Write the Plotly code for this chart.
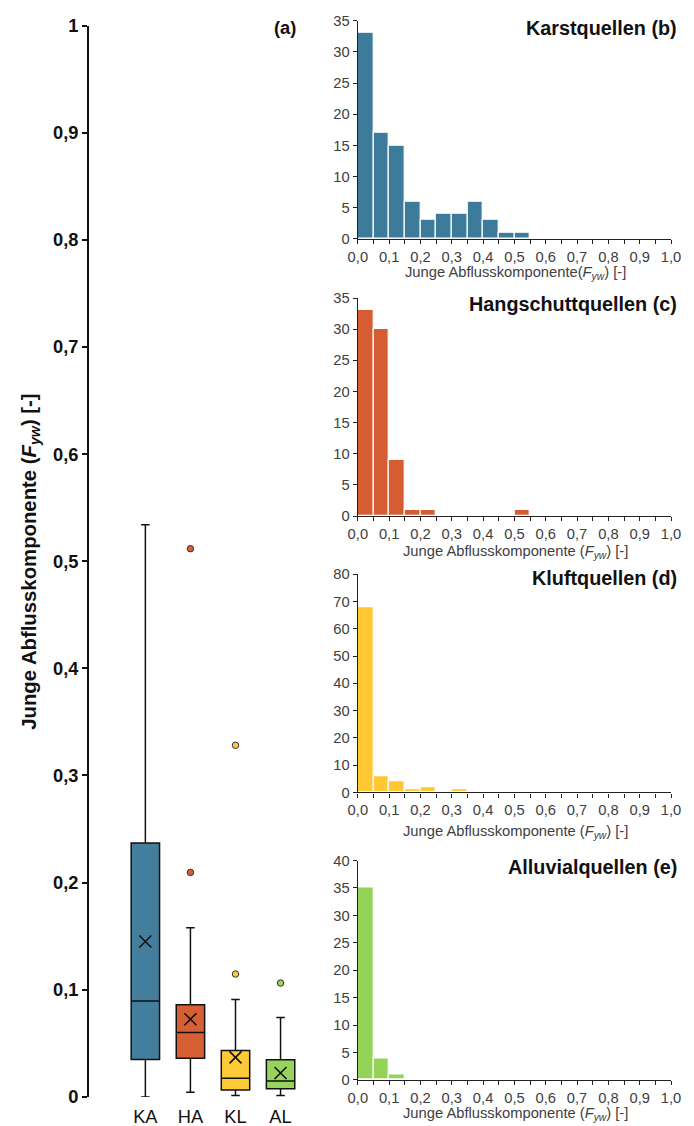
import plotly.graph_objects as go

# ---------- data ----------
groups = ["KA", "HA", "KL", "AL"]
box_q1 = [0.035, 0.036, 0.0065, 0.0077]
box_median = [0.0895, 0.060, 0.0174, 0.0149]
box_q3 = [0.237, 0.086, 0.0434, 0.0347]
box_lower = [0.0, 0.0044, 0.0012, 0.0012]
box_upper = [0.534, 0.158, 0.0908, 0.0741]
box_mean = [0.145, 0.0725, 0.0369, 0.0223]

outlier_group = ["HA", "HA", "KL", "KL", "AL"]
outlier_value = [0.2095, 0.5117, 0.1147, 0.3282, 0.1063]

bin_starts = [0.00, 0.05, 0.10, 0.15, 0.20, 0.25, 0.30, 0.35, 0.40, 0.45,
              0.50, 0.55, 0.60, 0.65, 0.70, 0.75, 0.80, 0.85, 0.90, 0.95]
counts_karst = [33, 17, 15, 6, 3, 4, 4, 6, 3, 1, 1, 0, 0, 0, 0, 0, 0, 0, 0, 0]
counts_hang = [33, 30, 9, 1, 1, 0, 0, 0, 0, 0, 1, 0, 0, 0, 0, 0, 0, 0, 0, 0]
counts_kluft = [68, 6, 4, 1, 2, 0, 1, 0, 0, 0, 0, 0, 0, 0, 0, 0, 0, 0, 0, 0]
counts_alluv = [35, 4, 1, 0, 0, 0, 0, 0, 0, 0, 0, 0, 0, 0, 0, 0, 0, 0, 0, 0]

hist_titles = ["Karstquellen (b)", "Hangschuttquellen (c)", "Kluftquellen (d)", "Alluvialquellen (e)"]
hist_ymax = [35, 35, 80, 40]
hist_dtick = [5, 5, 10, 5]

box_ticks = [0, 0.1, 0.2, 0.3, 0.4, 0.5, 0.6, 0.7, 0.8, 0.9, 1.0]
box_ticktext = ["0", "0,1", "0,2", "0,3", "0,4", "0,5", "0,6", "0,7", "0,8", "0,9", "1"]
hist_xticks = [0.0, 0.1, 0.2, 0.3, 0.4, 0.5, 0.6, 0.7, 0.8, 0.9, 1.0]
hist_xticktext = ["0,0", "0,1", "0,2", "0,3", "0,4", "0,5", "0,6", "0,7", "0,8", "0,9", "1,0"]
hist_minor_ticks = [0.05, 0.15, 0.25, 0.35, 0.45, 0.55, 0.65, 0.75, 0.85, 0.95]

colors = ["#3D7B9A", "#D65D33", "#FFC832", "#95D258"]
box_colors = ["#437F9D", "#D85E34", "#FFCA38", "#98D35C"]

# ---------- layout geometry ----------
# positions below are given in window pixels; the page is shown at a
# slight zoom-out, so they are converted to css pixels inside the figure
ZOOM = 0.9843
BODY_MARGIN = 8
W, H = 688, 1127
FONT = "Liberation Sans, Arial, sans-serif"
TICK_GREY = "#404040"


def px_x(p):
    return (p / ZOOM - BODY_MARGIN) / W


def px_y(p):
    return 1 - (p / ZOOM - BODY_MARGIN) / H


def fs(size):
    return round(size / ZOOM, 2)


fig = go.Figure()

# ---------- panel (a): box plots ----------
for g, c, q1, med, q3, lo, hi in zip(groups, box_colors, box_q1, box_median,
                                     box_q3, box_lower, box_upper):
    fig.add_trace(go.Box(
        x=[g], q1=[q1], median=[med], q3=[q3], lowerfence=[lo], upperfence=[hi],
        fillcolor=c, line=dict(color="#111111", width=1.5), whiskerwidth=0.3,
        boxpoints=False, showlegend=False, xaxis="x", yaxis="y", hoverinfo="skip",
    ))

fig.add_trace(go.Scatter(
    x=groups, y=box_mean, mode="markers", xaxis="x", yaxis="y", showlegend=False,
    marker=dict(symbol="x-thin", size=12, line=dict(color="#111111", width=1.6)),
))

outlier_colors = [box_colors[groups.index(g)] for g in outlier_group]
fig.add_trace(go.Scatter(
    x=outlier_group, y=outlier_value, mode="markers", xaxis="x", yaxis="y",
    showlegend=False,
    marker=dict(symbol="circle", size=6.5, color=outlier_colors,
                line=dict(color="#333333", width=1)),
))

# ---------- panels (b)-(e): histograms ----------
hist_counts = [counts_karst, counts_hang, counts_kluft, counts_alluv]
hist_rows = [(17.7, 236.7), (296, 515), (573.3, 792.3), (860.7, 1081)]

layout_axes = {}
for i, (counts, col) in enumerate(zip(hist_counts, colors)):
    k = i + 2
    fig.add_trace(go.Bar(
        x=bin_starts, y=counts, width=0.05, offset=0,
        marker=dict(color=col, line=dict(color="white", width=1.2)),
        xaxis=f"x{k}", yaxis=f"y{k}", showlegend=False,
    ))
    top, bottom = hist_rows[i]
    layout_axes[f"xaxis{k}"] = dict(
        domain=[px_x(360.5), px_x(678)], anchor=f"y{k}", range=[0, 1],
        showline=True, linecolor="#222222", linewidth=1.3, showgrid=False,
        zeroline=False, ticks="outside", ticklen=4, tickcolor="#222222",
        tickvals=hist_xticks, ticktext=hist_xticktext, ticklabeloverflow="allow",
        tickfont=dict(family=FONT, size=fs(14.5), color=TICK_GREY),
        minor=dict(ticks="outside", ticklen=4, tickcolor="#222222",
                   tickvals=hist_minor_ticks),
    )
    layout_axes[f"yaxis{k}"] = dict(
        domain=[px_y(bottom), px_y(top)], anchor=f"x{k}",
        range=[0, hist_ymax[i]], dtick=hist_dtick[i],
        showline=True, linecolor="#222222", linewidth=1.3, showgrid=False,
        zeroline=False, ticks="outside", ticklen=4, tickcolor="#222222",
        tickfont=dict(family=FONT, size=fs(14.5), color=TICK_GREY),
    )

annotations = []
title_y = [25, 302, 577, 867]
for t, yy in zip(hist_titles, title_y):
    annotations.append(dict(
        text=f"<b>{t}</b>", x=px_x(686), y=px_y(yy), xref="paper", yref="paper",
        xanchor="right", yanchor="middle", showarrow=False,
        font=dict(family=FONT, size=fs(19.5), color="#111111"),
    ))

xtitle_y = [271, 551, 832, 1115]
xtitle_text = [
    "Junge Abflusskomponente(<i>F</i><sub><i>yw</i></sub>) [-]",
    "Junge Abflusskomponente (<i>F</i><sub><i>yw</i></sub>) [-]",
    "Junge Abflusskomponente (<i>F</i><sub><i>yw</i></sub>) [-]",
    "Junge Abflusskomponente (<i>F</i><sub><i>yw</i></sub>) [-]",
]
for t, yy in zip(xtitle_text, xtitle_y):
    annotations.append(dict(
        text=t, x=px_x(520), y=px_y(yy), xref="paper", yref="paper",
        xanchor="center", yanchor="middle", showarrow=False,
        font=dict(family=FONT, size=fs(14.5), color=TICK_GREY),
    ))

annotations.append(dict(
    text="<b>(a)</b>", x=px_x(300), y=px_y(24), xref="paper", yref="paper",
    xanchor="right", yanchor="middle", showarrow=False,
    font=dict(family=FONT, size=fs(18), color="#111111"),
))
annotations.append(dict(
    text="<b>Junge Abflusskomponente (<i>F</i><sub><i>yw</i></sub>) [-]</b>",
    x=px_x(29), y=px_y(561), xref="paper", yref="paper", textangle=-90,
    xanchor="center", yanchor="middle", showarrow=False,
    font=dict(family=FONT, size=fs(20), color="#111111"),
))

fig.update_layout(
    width=W, height=H, margin=dict(l=0, r=0, t=0, b=0),
    paper_bgcolor="white", plot_bgcolor="white",
    boxmode="overlay", boxgap=0.1, bargap=0,
    xaxis=dict(
        domain=[px_x(88), px_x(305)], anchor="y", type="category",
        categoryorder="array", categoryarray=groups, range=[-1.25, 3.5],
        showline=False, showgrid=False, zeroline=False,
        ticks="outside", ticklen=3, tickcolor="rgba(0,0,0,0)",
        tickfont=dict(family=FONT, size=fs(18), color="#111111"),
    ),
    yaxis=dict(
        domain=[px_y(1098), px_y(22.5)], anchor="x", range=[0, 1],
        tickvals=box_ticks, ticktext=box_ticktext,
        showline=True, linecolor="#111111", linewidth=1.8, showgrid=False,
        zeroline=False, ticks="outside", ticklen=5, tickcolor="#111111",
        tickwidth=1.5,
        tickfont=dict(family=FONT, size=fs(18), color="#111111", weight="bold"),
    ),
    annotations=annotations,
    **layout_axes,
)

fig.write_html("out.html")
